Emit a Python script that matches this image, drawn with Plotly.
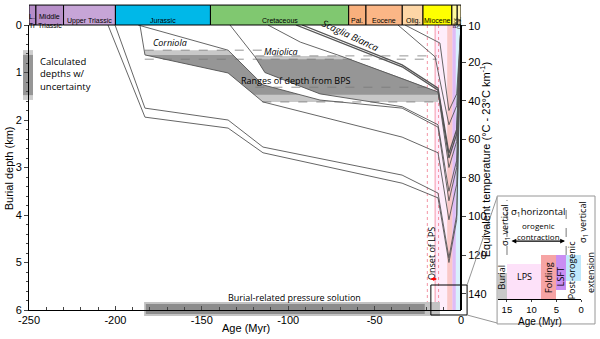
import numpy as np
import plotly.graph_objects as go

# geological time scale (Myr, negative = before present)
era_labels = ["L.<br>Tr", "Middle<br>Triassic", "Upper Triassic", "Jurassic", "Cretaceous",
              "Pal.", "Eocene", "Olig.", "Miocene", "Plioc.", "Quat."]
era_start = [-250, -246, -230, -200, -145, -65, -55, -34, -22, -5.3, -2.2]
era_end = [-246, -230, -200, -145, -65, -55, -34, -22, -5.3, -2.2, 0]
era_colors = ["#b68cc8", "#b890ca", "#c7a5d7", "#00b8e8", "#80c870",
              "#f9b07d", "#fbb686", "#fdd6a6", "#ffff00", "#fffa9c", "#fff3b3"]

# burial curves (age in Myr, depth in km)
t1_age = [-204.3, -182.9, -134.8, -114.6, -34.1, -13.3, -7.0, -2.5, 0]
t1_depth = [0, 1.94, 2.17, 2.69, 3.33, 3.64, 5.0, 4.1, 0]
t2_age = [-200.2, -182.9, -134.8, -114.6, -34.1, -13.3, -7.0, -2.5, 0]
t2_depth = [0, 1.75, 2.0, 2.57, 3.16, 3.54, 4.9, 4.0, 0]
corn_bot_age = [-185.8, -182.9, -134.8, -114.6, -34.1, -13.3, -7.0, -2.5, 0]
corn_bot_depth = [0, 0.63, 1.01, 1.62, 2.36, 2.69, 4.1, 3.35, 0]
corn_top_age = [-186.9, -134.8, -114.6, -81.6, -34.1, -13.3, -7.0, -2.5, 0]
corn_top_depth = [0, 0.53, 1.26, 1.58, 1.75, 2.15, 3.7, 3.0, 0]
maio_bot_age = [-133.7, -119.2, -113.5, -81.6, -34.1, -13.3, -7.0, -2.5, 0]
maio_bot_depth = [0, 0.67, 1.0, 1.45, 1.72, 2.1, 3.5, 2.85, 0]
maio_top_age = [-111.7, -93.0, -68.3, -34.1, -13.3, -7.0, -2.5, 0]
maio_top_depth = [0, 0.36, 0.67, 1.12, 1.41, 3.0, 2.45, 0]
scag_bot_age = [-95.5, -34.1, -13.3, -7.0, -2.5, 0]
scag_bot_depth = [0, 0.88, 1.37, 2.8, 2.3, 0]
scag_top_age = [-92.0, -34.1, -13.3, -7.0, -2.5, 0]
scag_top_depth = [0, 0.84, 1.33, 2.7, 2.2, 0]
olig_a_age = [-36.5, -15.0, -7.0, -2.5, 0]
olig_a_depth = [0, 0.67, 2.1, 1.7, 0]
olig_b_age = [-32.4, -12.2, -7.0, -2.5, 0]
olig_b_depth = [0, 0.38, 1.8, 1.45, 0]

# BPS depth ranges (km): outer = with uncertainty, inner = calculated
corn_outer = [0.53, 1.62]
corn_inner = [0.63, 1.47]
maio_outer = [0.65, 1.62]
maio_inner = [0.72, 1.47]
dash_depth = [0.53, 0.65, 0.72, 1.31, 1.62]
dash_start = [-183, -119, -183, -119, -115]
dash_end = [-115, -14, -14, -14, -14]
bps_burial_age = [-183.4, -12.2]

# deformation phases (Myr before present)
phase_labels = ["Burial", "LPS", "Folding", "LSFT", "Post-orogenic"]
phase_start = [16.8, 15, 8, 5, 3]
phase_end = [15, 8, 5, 3, 0]
phase_colors = ["#c9c9c9", "#fde1f9", "#f6a4a4", "#c98ef2", "#bfe8fb"]
onset_lps = [-19.5, -13.0]

# right axis: equivalent temperature
temp_labels = ["10", "20", "40", "60", "80", "100", "120", "140"]
temp_pos = [1.3, 20, 40, 60, 80, 100, 120, 140]

x_ticks = [-250, -200, -150, -100, -50, 0]

GREY = "rgb(85,85,85)"


def band(top_age, top_depth, bot_age, bot_depth, rng, a0, a1=-13.3):
    ages = np.linspace(a0, a1, 800)
    top = np.clip(np.interp(ages, top_age, top_depth, left=0), rng[0], rng[1])
    bot = np.clip(np.interp(ages, bot_age, bot_depth, left=0), rng[0], rng[1])
    bot = np.maximum(bot, top)
    return np.concatenate([ages, ages[::-1]]), np.concatenate([top, bot[::-1]])


fig = go.Figure()

# shaded depth ranges for Corniola and Maiolica
for rng, col in [(corn_outer, "rgb(200,200,200)"), (corn_inner, "rgb(150,150,150)")]:
    bx, by = band(corn_top_age, corn_top_depth, corn_bot_age, corn_bot_depth, rng, -186.9)
    fig.add_trace(go.Scatter(x=bx, y=by, fill="toself", fillcolor=col, mode="none", hoverinfo="skip"))
for rng, col in [(maio_outer, "rgb(200,200,200)"), (maio_inner, "rgb(150,150,150)")]:
    bx, by = band(maio_top_age, maio_top_depth, maio_bot_age, maio_bot_depth, rng, -133.7)
    fig.add_trace(go.Scatter(x=bx, y=by, fill="toself", fillcolor=col, mode="none", hoverinfo="skip"))

for d, a0, a1 in zip(dash_depth, dash_start, dash_end):
    fig.add_trace(go.Scatter(x=[a0, a1], y=[d, d], mode="lines",
                             line=dict(color="rgb(120,120,120)", width=0.8, dash="dash")))

curves = [(t1_age, t1_depth, 0.9), (t2_age, t2_depth, 0.9),
          (corn_bot_age, corn_bot_depth, 0.9), (corn_top_age, corn_top_depth, 0.9),
          (maio_bot_age, maio_bot_depth, 0.9), (maio_top_age, maio_top_depth, 0.9),
          (scag_bot_age, scag_bot_depth, 1.3), (scag_top_age, scag_top_depth, 1.3),
          (olig_a_age, olig_a_depth, 0.9), (olig_b_age, olig_b_depth, 0.9)]
for a, d, w in curves:
    fig.add_trace(go.Scatter(x=a, y=d, mode="lines", line=dict(color=GREY, width=w)))

# invisible trace so the temperature axis is drawn
fig.add_trace(go.Scatter(x=[-250], y=[temp_pos[1]], yaxis="y2", mode="markers",
                         marker=dict(opacity=0), hoverinfo="skip"))

# inset: deformation phases
for lab, s, e, c in zip(phase_labels, phase_start, phase_end, phase_colors):
    fig.add_trace(go.Bar(x=[s - e], base=[e], y=[0], width=[1], orientation="h",
                         marker=dict(color=c, line=dict(width=0)),
                         xaxis="x2", yaxis="y3"))

shapes = []
# time scale bar
for s, e, c in zip(era_start, era_end, era_colors):
    shapes.append(dict(type="rect", xref="x", yref="paper", x0=s, x1=e, y0=1.0, y1=1.07,
                       fillcolor=c, line=dict(color="black", width=1)))
# phase bands in main plot
for s, e, c in zip(phase_start[1:], phase_end[1:], phase_colors[1:]):
    shapes.append(dict(type="rect", xref="x", yref="paper", x0=-s, x1=-e, y0=0, y1=1,
                       fillcolor=c, opacity=0.6, line=dict(width=0), layer="below"))
shapes.append(dict(type="line", xref="x", yref="paper", x0=-15, x1=-15, y0=0, y1=1,
                   line=dict(color="rgb(245,150,170)", width=1), layer="below"))
for a in onset_lps:
    shapes.append(dict(type="line", xref="x", yref="paper", x0=a, x1=a, y0=0, y1=1,
                       line=dict(color="rgb(240,120,140)", width=0.8, dash="dot"), layer="below"))
# burial-related pressure solution bar
shapes.append(dict(type="rect", xref="x", yref="paper", x0=bps_burial_age[0], x1=bps_burial_age[1],
                   y0=-0.021, y1=0.028, fillcolor="rgb(195,195,195)", line=dict(width=0), layer="below"))
shapes.append(dict(type="rect", xref="x", yref="paper", x0=bps_burial_age[0] + 1, x1=-21,
                   y0=-0.014, y1=0.021, fillcolor="rgb(140,140,140)", line=dict(width=0), layer="below"))
# legend bar for calculated depths
shapes.append(dict(type="rect", xref="paper", yref="paper", x0=-0.0106, x1=0.0071, y0=0.737, y1=0.912,
                   fillcolor="rgb(205,205,205)", line=dict(width=0), layer="below"))
shapes.append(dict(type="rect", xref="paper", yref="paper", x0=-0.0106, x1=0.0071, y0=0.754, y1=0.895,
                   fillcolor="rgb(150,150,150)", line=dict(width=0), layer="below"))
# zoom box and inset frame
shapes.append(dict(type="rect", xref="paper", yref="paper", x0=0.710, x1=0.774, y0=-0.0175, y1=0.0877,
                   line=dict(color="black", width=1)))
shapes.append(dict(type="rect", xref="paper", yref="paper", x0=0.827, x1=1.0, y0=-0.049, y1=0.40,
                   line=dict(color="rgb(150,150,150)", width=1)))
shapes.append(dict(type="line", xref="paper", yref="paper", x0=0.774, x1=0.827, y0=0.0877, y1=0.396,
                   line=dict(color="rgb(150,150,150)", width=1)))
shapes.append(dict(type="line", xref="paper", yref="paper", x0=0.774, x1=0.827, y0=-0.0175, y1=-0.0456,
                   line=dict(color="rgb(150,150,150)", width=1)))
for xp, y1 in [(0.8445, 0.386), (0.949, 0.375)]:
    shapes.append(dict(type="line", xref="paper", yref="paper", x0=xp, x1=xp, y0=0.193, y1=y1,
                       line=dict(color="rgb(120,120,120)", width=1, dash="dash")))

ann = []
for lab, s, e in zip(era_labels, era_start, era_end):
    rot = lab in ("Plioc.", "Quat.")
    lines = lab.split("<br>")
    ys = [1.048, 1.019] if len(lines) == 2 else [1.035]
    for ln, yy in zip(lines, ys):
        ann.append(dict(x=(s + e) / 2, y=yy, xref="x", yref="paper", text=ln, showarrow=False,
                        textangle=-90 if rot else 0, font=dict(size=5 if rot else 7)))

txt = dict(family="Open Sans, Arial", size=9, color="black")
for a in [
    dict(x=-168.4, y=0.36, text="<i>Corniola</i>", font=txt),
    dict(x=-104.2, y=0.55, text="<i>Maiolica</i>", font=txt),
    dict(x=-64.0, y=0.22, text="<i>Scaglia Bianca</i>", textangle=25,
         font=dict(family="Open Sans, Arial", size=9.5)),
    dict(x=-95.5, y=1.16, text="Ranges of depth from BPS", font=txt),
    dict(x=-96.6, y=5.73, text="Burial-related pressure solution", font=txt),
    dict(x=-244.8, y=1.03, text="Calculated<br>depths w/<br>uncertainty", xanchor="left", align="left",
         font=dict(family="Open Sans, Arial", size=9.5)),
    dict(x=-16.8, y=4.82, text="Onset of LPS", textangle=-90, font=txt),
]:
    a.update(xref="x", yref="y", showarrow=False)
    ann.append(a)
ann.append(dict(x=-13.9, y=5.35, xref="x", yref="y", ax=-8, ay=0, text="", showarrow=True,
                arrowside="end+start", arrowhead=2, arrowsize=0.7, arrowwidth=1, arrowcolor="red"))

ins = dict(family="Open Sans, Arial", size=9, color="black")
for lab, s, e in zip(phase_labels[:4], phase_start, phase_end):
    ann.append(dict(x=(s + e) / 2, y=0, xref="x2", yref="y3", text=lab, showarrow=False,
                    textangle=0 if lab == "LPS" else -90, font=ins))

# texts placed in paper coordinates (axis titles and inset notes)
paper_txt = [
    dict(x=-0.035, y=0.498, text="Burial depth (km)", textangle=-90, font=dict(size=11)),
    dict(x=0.383, y=-0.062, text="Age (Myr)", font=dict(size=11)),
    dict(x=0.806, y=0.526, text="Equivalent temperature (°C - 23°C km<sup>-1</sup>)",
         textangle=-90, font=dict(size=11)),
    dict(x=0.958, y=0.14, text="Post-orogenic", textangle=-90, font=ins),
    dict(x=0.991, y=0.133, text="extension", textangle=-90, font=ins),
    dict(x=0.979, y=0.309, text="σ<sub>1</sub> vertical", textangle=-90, font=ins),
    dict(x=0.841, y=0.298, text="σ<sub>1</sub> vertical", textangle=-90, font=ins),
    dict(x=0.900, y=0.344, text="σ<sub>1</sub>horizontal", font=dict(family="Open Sans, Arial", size=9.5)),
    dict(x=0.900, y=0.295, text="orogenic", font=dict(family="Open Sans, Arial", size=8)),
    dict(x=0.900, y=0.258, text="contraction", font=dict(family="Open Sans, Arial", size=8)),
    dict(x=0.903, y=-0.042, text="Age (Myr)", font=dict(size=10)),
]
for a in paper_txt:
    a.update(xref="paper", yref="paper", showarrow=False, xanchor="center", yanchor="middle")
    ann.append(a)
ann.append(dict(x=0.947, y=0.242, xref="paper", yref="paper", ax=-55, ay=0, text="", showarrow=True,
                arrowside="end+start", arrowhead=2, arrowsize=0.8, arrowwidth=1.2, arrowcolor="black"))

fig.update_layout(
    width=600, height=339,
    margin=dict(l=29, r=5, t=25, b=29, autoexpand=False),
    plot_bgcolor="white", paper_bgcolor="white",
    showlegend=False, bargap=0,
    font=dict(family="Arial, Liberation Sans, sans-serif", size=11, color="black"),
    xaxis=dict(domain=[0, 0.7633], range=[-250, 0], tickmode="array", tickvals=x_ticks,
               ticktext=[str(v) for v in x_ticks], ticks="inside", ticklen=4, automargin=False,
               minor=dict(tickmode="linear", tick0=0, dtick=10, ticks="inside", ticklen=3),
               showline=True, linecolor="black", linewidth=1, showgrid=False, zeroline=False),
    yaxis=dict(range=[6, 0], tickmode="linear", tick0=0, dtick=1, ticks="outside", ticklen=4,
               minor=dict(dtick=0.2, ticks="outside", ticklen=2.5), automargin=False,
               showline=True, linecolor="black", linewidth=1, showgrid=False, zeroline=False),
    yaxis2=dict(overlaying="y", side="right", anchor="free", position=0.7633, automargin=False,
                range=[148.3, 0.86], tickmode="array", tickvals=temp_pos, ticktext=temp_labels,
                ticks="outside", ticklen=4, showline=True, linecolor="black", linewidth=2,
                showgrid=False, zeroline=False),
    xaxis2=dict(domain=[0.8286, 0.9753], range=[16.8, 0], anchor="y3", tickvals=[15, 10, 5, 0],
                ticks="outside", ticklen=2, showline=True, linecolor="black", linewidth=1,
                showgrid=False, zeroline=False, tickfont=dict(size=9.5), automargin=False),
    yaxis3=dict(domain=[0.0386, 0.193], range=[-0.5, 0.5], anchor="x2", visible=False,
                automargin=False),
    shapes=shapes,
    annotations=ann,
)

# drop the default page margin so the figure sits at the window's corner
fig.write_html("out.html", config={"displayModeBar": False},
               post_script="document.body.style.margin='0';")
